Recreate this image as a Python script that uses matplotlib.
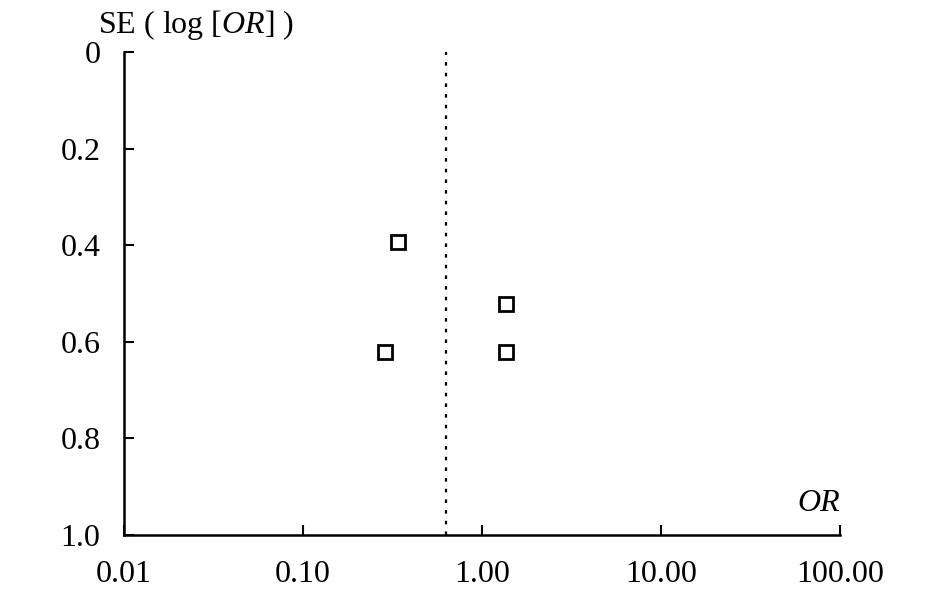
import matplotlib.pyplot as plt
from matplotlib.ticker import FixedLocator, NullLocator

plt.rcParams['font.family'] = ['Liberation Serif', 'DejaVu Serif']
plt.rcParams['mathtext.fontset'] = 'custom'
plt.rcParams['mathtext.rm'] = 'Liberation Serif'
plt.rcParams['mathtext.it'] = 'Liberation Serif:italic'

# study points
odds_ratio = [0.34, 0.287, 1.36, 1.36]
se_log_or = [0.393, 0.621, 0.522, 0.621]
pooled_or = 0.63

x_ticks = [0.01, 0.1, 1, 10, 100]
x_labels = ['0.01', '0.10', '1.00', '10.00', '100.00']
y_ticks = [0, 0.2, 0.4, 0.6, 0.8, 1.0]
y_labels = ['0', '0.2', '0.4', '0.6', '0.8', '1.0']

fig = plt.figure(figsize=(9.45, 5.95), dpi=100)
ax = fig.add_axes([124 / 945, 1 - 535 / 595, (840 - 124) / 945, (535 - 52) / 595])

ax.axvline(pooled_or, color='black', linewidth=1.6, linestyle=(0, (1.6, 3.2)))
ax.plot(odds_ratio, se_log_or, linestyle='none', marker='s', markersize=9.5,
        markerfacecolor='white', markeredgecolor='black', markeredgewidth=2)

ax.set_xscale('log')
ax.set_xlim(0.01, 100)
ax.set_ylim(1.0, 0)
ax.xaxis.set_major_locator(FixedLocator(x_ticks))
ax.xaxis.set_minor_locator(NullLocator())
ax.set_xticklabels(x_labels)
ax.set_yticks(y_ticks)
ax.set_yticklabels(y_labels)

ax.spines['top'].set_visible(False)
ax.spines['right'].set_visible(False)
for s in ['left', 'bottom']:
    ax.spines[s].set_linewidth(1.8)
ax.tick_params(direction='in', length=7, width=1.5, labelsize=23)
ax.tick_params(axis='x', pad=18)
ax.tick_params(axis='y', pad=17)

fig.text(98 / 945, 1 - 33 / 595, 'SE ( log [$\\mathit{OR}$] )',
         fontsize=23, ha='left', va='baseline')
ax.text(1.0, 0.035, 'OR', transform=ax.transAxes, fontsize=23,
        fontstyle='italic', ha='right', va='bottom')

fig.savefig('out.png', dpi=100)
